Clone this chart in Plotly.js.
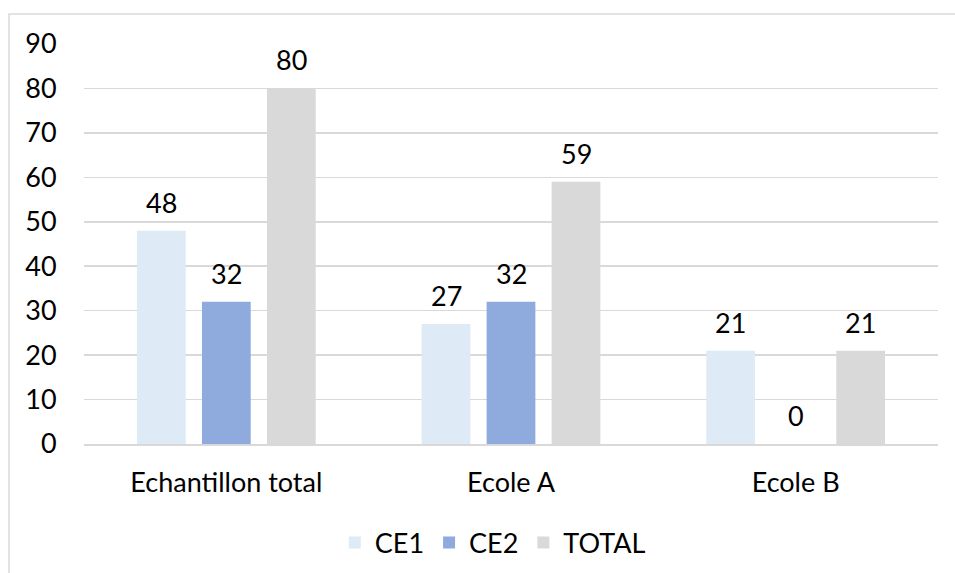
<!DOCTYPE html>
<html>
<head>
<meta charset="utf-8">
<script src="https://cdn.plot.ly/plotly-3.0.1.min.js"></script>
<style>html,body{margin:0;padding:0;background:#fff;}#chart{width:955px;height:573px;}</style>
</head>
<body>
<div id="chart"></div>
<script>
const categories = ["Echantillon total", "Ecole A", "Ecole B"];
const ce1 = [48, 27, 21];
const ce2 = [32, 32, 0];
const total = [80, 59, 21];
const seriesNames = ["CE1", "CE2", "TOTAL"];
const yTicks = [0, 10, 20, 30, 40, 50, 60, 70, 80, 90];

const colors = ["#DEEAF6", "#8FAADC", "#D9D9D9"];
const font = "Lato, 'Open Sans', sans-serif";
const fsize = 27;
const values = [ce1, ce2, total];
const bargap = 0.315;

const traces = values.map((v, i) => ({
  type: "bar",
  name: seriesNames[i],
  x: categories,
  y: v,
  marker: {color: colors[i]},
  hoverinfo: "none"
}));

// data labels above each bar, positioned from the data via group offsets
const slot = (1 - bargap) / values.length;
const annotations = [];
values.forEach((v, i) => {
  v.forEach((val, j) => {
    annotations.push({
      xref: "x", yref: "y",
      x: j + (i - (values.length - 1) / 2) * slot,
      y: val,
      text: String(val),
      showarrow: false,
      yanchor: "bottom",
      yshift: 10,
      font: {family: font, size: fsize, color: "#000"}
    });
  });
});

const layout = {
  width: 955, height: 573,
  margin: {l: 84, r: 17, t: 44, b: 129},
  paper_bgcolor: "#fff", plot_bgcolor: "#fff",
  barmode: "group",
  bargap: bargap,
  bargroupgap: 0.25,
  font: {family: font, size: fsize, color: "#000"},
  showlegend: true,
  legend: {orientation: "h", xref: "container", yref: "container",
           x: 0.516, xanchor: "center", y: 0.0524, yanchor: "middle",
           font: {family: font, size: fsize, color: "#000"}, itemwidth: 30, traceorder: "normal"},
  annotations: annotations,
  xaxis: {
    automargin: false,
    showgrid: false, showline: true, linecolor: "#D9D9D9", linewidth: 1.5,
    ticks: "outside", ticklen: 14, tickcolor: "rgba(0,0,0,0)",
    tickfont: {family: font, size: fsize, color: "#000"}, fixedrange: true
  },
  yaxis: {
    automargin: false,
    range: [0, 90], tickvals: yTicks, showgrid: true, gridcolor: "#D9D9D9", gridwidth: 1.5,
    zeroline: false, showline: false,
    ticks: "outside", ticklen: 21, tickcolor: "rgba(0,0,0,0)",
    tickfont: {family: font, size: fsize, color: "#000"}, fixedrange: true
  },
  shapes: [{
    type: "rect", xref: "paper", yref: "paper",
    x0: (9 - 84) / 854, x1: 1.05, y0: -0.35, y1: (444 - 14) / 400,
    line: {color: "#D9D9D9", width: 1.5}, fillcolor: "rgba(0,0,0,0)", layer: "below"
  }]
};

Plotly.newPlot("chart", traces, layout, {displayModeBar: false, staticPlot: true});
</script>
</body>
</html>
